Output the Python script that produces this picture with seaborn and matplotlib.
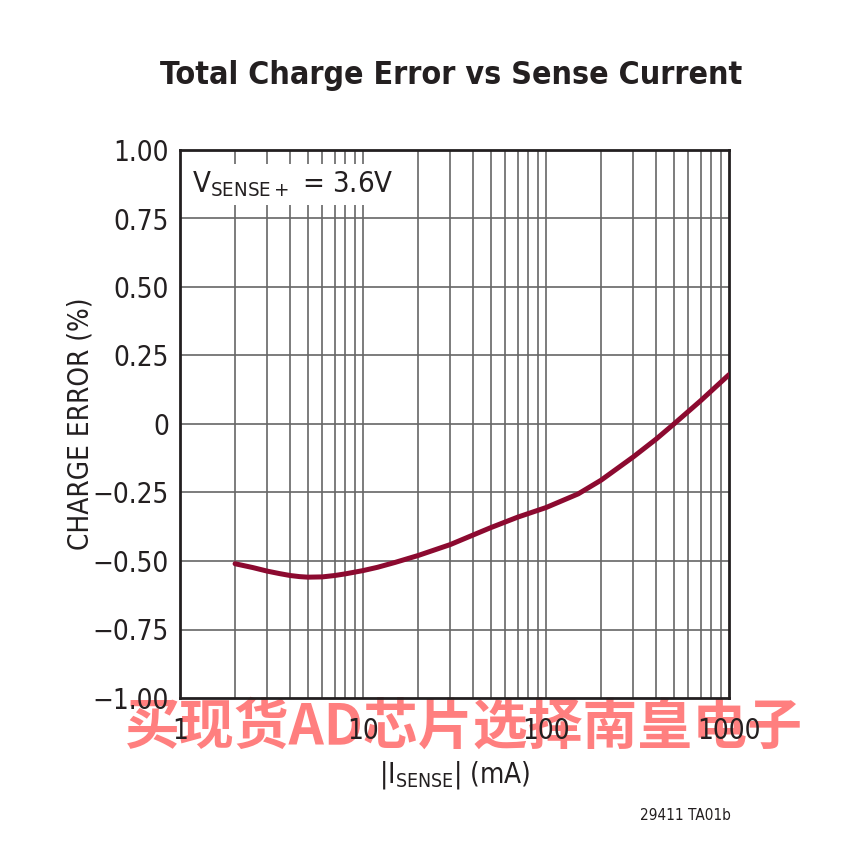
import numpy as np
import pandas as pd
import matplotlib
matplotlib.use("Agg")
import matplotlib.pyplot as plt
import seaborn as sns

# curve
sense_current = [2, 2.5, 3, 3.5, 4, 4.5, 5, 6, 7, 8, 10, 12, 15, 20, 30, 40, 50, 70,
                 100, 150, 200, 300, 400, 500, 700, 1000]
charge_error = [-0.51, -0.524, -0.537, -0.546, -0.553, -0.557, -0.559, -0.558, -0.553,
                -0.547, -0.535, -0.523, -0.505, -0.48, -0.44, -0.405, -0.378, -0.34,
                -0.305, -0.255, -0.205, -0.12, -0.055, 0.0, 0.085, 0.18]

y_ticks = [1.0, 0.75, 0.5, 0.25, 0.0, -0.25, -0.5, -0.75, -1.0]
y_labels = ["1.00", "0.75", "0.50", "0.25", "0", "\u22120.25", "\u22120.50", "\u22120.75", "\u22121.00"]
x_ticks = [1, 10, 100, 1000]
x_labels = ["1", "10", "100", "1000"]

sns.set_theme(style="white")
plt.rcParams['font.family'] = ['DejaVu Sans']
plt.rcParams['font.stretch'] = 'condensed'

df = pd.DataFrame({'I': sense_current, 'err': charge_error})

fig = plt.figure(figsize=(8.62, 8.52), dpi=100)
ax = fig.add_axes([180 / 862, 1 - 698 / 852, 549 / 862, 548 / 852])
ax.patch.set_alpha(0)

sns.lineplot(data=df, x='I', y='err', ax=ax, color='#8c0a30', linewidth=3.6, zorder=5)

ax.set_xscale('log')
ax.set_xlim(1, 1000)
ax.set_ylim(-1, 1)

# grid: every log minor step, horizontal every 0.25
for dec in [1, 10, 100]:
    for m in range(2, 10):
        ax.axvline(dec * m, color='#666666', lw=1.2, zorder=1)
for xv in [10, 100]:
    ax.axvline(xv, color='#666666', lw=1.2, zorder=1)
for yv in y_ticks[1:-1]:
    ax.axhline(yv, color='#666666', lw=1.2, zorder=1)

ax.set_xticks(x_ticks)
ax.set_xticklabels(x_labels)
ax.xaxis.set_minor_locator(matplotlib.ticker.NullLocator())
ax.set_yticks(y_ticks)
ax.set_yticklabels(y_labels)
ax.tick_params(axis='both', length=0, labelsize=20, colors='#231f20', pad=8)
ax.tick_params(axis='x', pad=14)

for spine in ax.spines.values():
    spine.set_visible(True)
    spine.set_edgecolor('#231f20')
    spine.set_linewidth(2)

ax.set_xlabel('|I$_{\\mathregular{SENSE}}$| (mA)', fontsize=20, color='#231f20', labelpad=10)
ax.set_ylabel('CHARGE ERROR (%)', fontsize=20, color='#231f20')
ax.yaxis.set_label_coords(-0.155, 0.5)

ax.text(0.022, 0.965, 'V$_{\\mathregular{SENSE+}}$ = 3.6V', transform=ax.transAxes,
        fontsize=21, color='#231f20', va='top', ha='left', zorder=6,
        bbox=dict(facecolor='white', edgecolor='none', pad=4))

fig.text(0.523, 0.911, 'Total Charge Error vs Sense Current', ha='center', va='center',
         fontsize=23, fontweight='bold', color='#231f20')

fig.text(0.795, 0.043, '29411 TA01b', ha='center', va='center', fontsize=11, color='#231f20')

# watermark, under the tick labels
fig.text(0.538, 0.147, '买现货AD芯片选择南皇电子', ha='center', va='center', fontsize=39.5,
         fontweight='bold', color='#ff7f7f',
         family=['Noto Sans CJK SC', 'DejaVu Sans'], zorder=-1)

fig.savefig('out.png', dpi=100, facecolor='white')
